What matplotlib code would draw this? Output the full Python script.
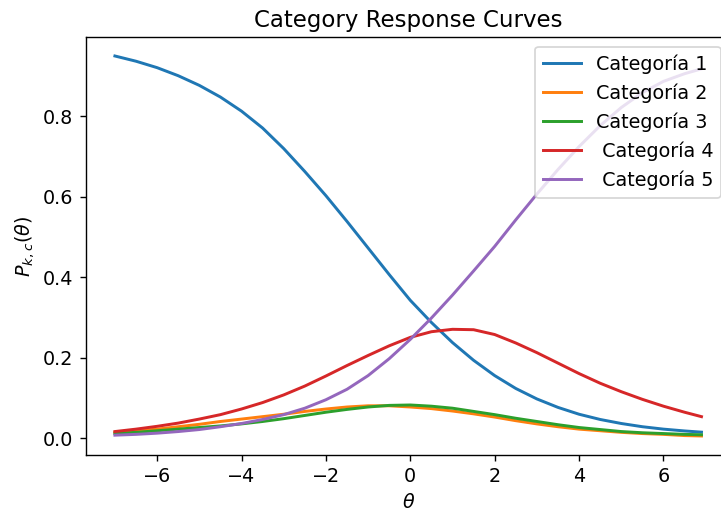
import matplotlib
matplotlib.use("Agg")
import matplotlib.pyplot as plt

theta = [-7, -6.5, -6, -5.5, -5, -4.5, -4, -3.5, -3, -2.5, -2, -1.5, -1, -0.5,
         0, 0.5, 1, 1.5, 2, 2.5, 3, 3.5, 4, 4.5, 5, 5.5, 6, 6.5, 6.9]

cat1 = [0.950, 0.937, 0.921, 0.901, 0.877, 0.848, 0.813, 0.771, 0.720, 0.663,
        0.603, 0.539, 0.473, 0.407, 0.343, 0.288, 0.238, 0.194, 0.156, 0.124,
        0.098, 0.077, 0.060, 0.047, 0.037, 0.029, 0.023, 0.0185, 0.0155]
cat2 = [0.015, 0.019, 0.023, 0.029, 0.035, 0.042, 0.048, 0.054, 0.060, 0.067,
        0.073, 0.078, 0.081, 0.081, 0.078, 0.074, 0.068, 0.061, 0.053, 0.044,
        0.036, 0.029, 0.023, 0.019, 0.015, 0.012, 0.010, 0.007, 0.006]
cat3 = [0.012, 0.015, 0.019, 0.023, 0.027, 0.031, 0.036, 0.042, 0.049, 0.057,
        0.065, 0.072, 0.078, 0.082, 0.083, 0.080, 0.075, 0.067, 0.059, 0.050,
        0.042, 0.034, 0.027, 0.022, 0.017, 0.014, 0.012, 0.010, 0.009]
cat4 = [0.017, 0.023, 0.030, 0.038, 0.048, 0.059, 0.073, 0.089, 0.108, 0.130,
        0.155, 0.181, 0.206, 0.230, 0.251, 0.265, 0.271, 0.270, 0.258, 0.237,
        0.213, 0.187, 0.161, 0.137, 0.116, 0.097, 0.080, 0.065, 0.054]
cat5 = [0.008, 0.010, 0.013, 0.017, 0.022, 0.029, 0.037, 0.047, 0.059, 0.075,
        0.096, 0.122, 0.156, 0.198, 0.246, 0.299, 0.356, 0.416, 0.477, 0.543,
        0.607, 0.668, 0.725, 0.777, 0.822, 0.859, 0.887, 0.906, 0.918]

labels = ["Categoría 1", "Categoría 2", "Categoría 3", " Categoría 4", " Categoría 5"]
series = [cat1, cat2, cat3, cat4, cat5]

plt.rcParams["font.size"] = 11
plt.rcParams["lines.linewidth"] = 1.7

fig = plt.figure(figsize=(721 / 125, 513 / 125), dpi=125)
ax = fig.add_axes([0.1187, 0.1131, 0.8949, 0.8148])
for s, lab in zip(series, labels):
    ax.plot(theta, s, label=lab)

ax.set_title("Category Response Curves", fontsize=13.2)
ax.set_xlabel(r"$\theta$")
ax.set_ylabel(r"$P_{k,c}(\theta)$")
ax.set_xticks([-6, -4, -2, 0, 2, 4, 6])
ax.set_yticks([0.0, 0.2, 0.4, 0.6, 0.8])
ax.legend(loc="upper right")

fig.savefig("out.png", dpi=125)
